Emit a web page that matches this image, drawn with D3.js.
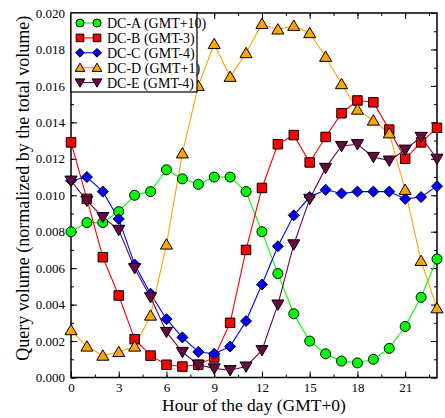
<!DOCTYPE html>
<html><head><meta charset="utf-8">
<script src="https://cdn.jsdelivr.net/npm/d3@7"></script>
<style>body{margin:0;background:#fff}svg{display:block}</style>
</head><body>
<script>
const hours = d3.range(0, 24);
const seriesNames = ["DC-A (GMT+10)", "DC-B (GMT-3)", "DC-C (GMT-4)", "DC-D (GMT+1)", "DC-E (GMT-4)"];
const colors = ["#00ff00", "#ff0000", "#0000ff", "#ffa500", "#670748"];
const markers = ["circle", "square", "diamond", "triangleUp", "triangleDown"];
const dcA = [0.0080,0.0085,0.0085,0.0091,0.0100,0.0102,0.0114,0.0109,0.0106,0.0110,0.0110,0.0102,0.0080,0.0057,0.0035,0.0020,0.0013,0.0009,0.0008,0.0010,0.0016,0.0028,0.0044,0.0065];
const dcB = [0.0129,0.0098,0.0066,0.0045,0.0021,0.0012,0.0007,0.0006,0.0007,0.0011,0.0030,0.0070,0.0104,0.0128,0.0133,0.0118,0.0132,0.0145,0.0152,0.0151,0.0136,0.0120,0.0129,0.0137];
const dcC = [0.0108,0.0110,0.0102,0.0087,0.0062,0.0046,0.0032,0.0022,0.0014,0.0013,0.0017,0.0031,0.0051,0.0072,0.0089,0.0099,0.0103,0.0101,0.0102,0.0102,0.0102,0.0098,0.0099,0.0105];
const dcD = [0.0026,0.0017,0.0012,0.0014,0.0017,0.0034,0.0073,0.0123,0.0160,0.0183,0.0165,0.0178,0.0194,0.0191,0.0193,0.0189,0.0176,0.0161,0.0147,0.0141,0.0134,0.0103,0.0064,0.0038];
const dcE = [0.0108,0.0097,0.0088,0.0081,0.0060,0.0044,0.0025,0.0014,0.0007,0.0005,0.0004,0.0006,0.0015,0.0040,0.0073,0.0098,0.0115,0.0127,0.0128,0.0121,0.0119,0.0125,0.0132,0.0120];
const seriesValues = [dcA, dcB, dcC, dcD, dcE];
const xTickLabels = [0, 3, 6, 9, 12, 15, 18, 21];
const yTickLabels = [0, 0.002, 0.004, 0.006, 0.008, 0.010, 0.012, 0.014, 0.016, 0.018, 0.020];

const W = 445, H = 418;
const L = 71, R = 437, T = 13, B = 377.5;
const font = "'Liberation Serif','Times New Roman',serif";
const svg = d3.select("body").append("svg").attr("width", W).attr("height", H)
  .style("font-family", font);

const x = d3.scaleLinear().domain([0, 23]).range([L, R]);
const y = d3.scaleLinear().domain([0, 0.020]).range([B, T]);

svg.append("rect").attr("x", L).attr("y", T).attr("width", R - L).attr("height", B - T)
  .attr("fill", "none").attr("stroke", "#000").attr("stroke-width", 1.5);

const xMinor = d3.range(0, 23.01, 1.5);
const yMinor = d3.range(0, 0.0201, 0.001);
svg.append("g").attr("transform", `translate(0,${B})`)
  .call(d3.axisBottom(x).tickValues(xTickLabels).tickSize(-6).tickPadding(5).tickFormat(d3.format("d")));
svg.append("g").attr("transform", `translate(0,${B})`)
  .call(d3.axisBottom(x).tickValues(xMinor).tickSize(-3).tickFormat(""));
svg.append("g").attr("transform", `translate(0,${T})`)
  .call(d3.axisTop(x).tickValues(xTickLabels).tickSize(-6).tickFormat(""));
svg.append("g").attr("transform", `translate(0,${T})`)
  .call(d3.axisTop(x).tickValues(xMinor).tickSize(-3).tickFormat(""));
svg.append("g").attr("transform", `translate(${L},0)`)
  .call(d3.axisLeft(y).tickValues(yTickLabels).tickSize(-6).tickPadding(6).tickFormat(d3.format(".3f")));
svg.append("g").attr("transform", `translate(${L},0)`)
  .call(d3.axisLeft(y).tickValues(yMinor).tickSize(-3).tickFormat(""));
svg.append("g").attr("transform", `translate(${R},0)`)
  .call(d3.axisRight(y).tickValues(yTickLabels).tickSize(-6).tickFormat(""));
svg.append("g").attr("transform", `translate(${R},0)`)
  .call(d3.axisRight(y).tickValues(yMinor).tickSize(-3).tickFormat(""));

svg.selectAll(".domain").remove();
svg.selectAll(".tick line").attr("stroke", "#000").attr("stroke-width", 1);
svg.selectAll(".tick text").attr("font-family", font).attr("font-size", 13).attr("fill", "#000");

svg.append("text").attr("x", (L + R) / 2).attr("y", 411).attr("text-anchor", "middle")
  .attr("font-size", 17.5).text("Hour of the day (GMT+0)");
svg.append("text").attr("transform", `translate(29,${(T + B) / 2 - 7}) rotate(-90)`)
  .attr("text-anchor", "middle").attr("font-size", 18)
  .text("Query volume (normalized by the total volume)");

function markerPath(type, r) {
  const p = d3.path();
  if (type === "circle") { p.moveTo(r, 0); p.arc(0, 0, r, 0, 2 * Math.PI); }
  else if (type === "square") { const a = r * 0.95; p.rect(-a, -a, 2 * a, 2 * a); }
  else if (type === "diamond") { const a = r * 1.1; p.moveTo(0, -a); p.lineTo(a, 0); p.lineTo(0, a); p.lineTo(-a, 0); p.closePath(); }
  else if (type === "triangleUp") { const a = r * 1.15; p.moveTo(0, -a); p.lineTo(a * 1.05, a * 0.8); p.lineTo(-a * 1.05, a * 0.8); p.closePath(); }
  else { const a = r * 1.15; p.moveTo(0, a); p.lineTo(a * 1.05, -a * 0.8); p.lineTo(-a * 1.05, -a * 0.8); p.closePath(); }
  return p.toString();
}
function drawMarker(g, type, color, cx, cy, r) {
  g.append("path").attr("d", markerPath(type, r)).attr("transform", `translate(${cx},${cy})`)
    .attr("fill", color).attr("stroke", "#000").attr("stroke-width", 1);
}

const line = d3.line().x((d, i) => x(hours[i])).y(d => y(d));
const plot = svg.append("g");
seriesValues.forEach((vals, s) => {
  plot.append("path").attr("d", line(vals)).attr("fill", "none")
    .attr("stroke", colors[s]).attr("stroke-width", 1.1);
});
seriesValues.forEach((vals, s) => {
  const g = plot.append("g");
  vals.forEach((v, i) => drawMarker(g, markers[s], colors[s], x(hours[i]), y(v), 5));
});

const lg = svg.append("g");
lg.append("rect").attr("x", L).attr("y", T).attr("width", 126).attr("height", 79)
  .attr("fill", "#fff").attr("stroke", "#000").attr("stroke-width", 1.2);
seriesNames.forEach((name, s) => {
  const cy = 23 + s * 14.9;
  lg.append("line").attr("x1", 80).attr("x2", 97).attr("y1", cy).attr("y2", cy)
    .attr("stroke", colors[s]).attr("stroke-width", 1.1);
  drawMarker(lg, markers[s], colors[s], 80, cy, 4);
  drawMarker(lg, markers[s], colors[s], 97, cy, 4);
  lg.append("text").attr("x", 107).attr("y", cy + 5).attr("font-size", 14).text(name);
});
</script>
</body></html>
